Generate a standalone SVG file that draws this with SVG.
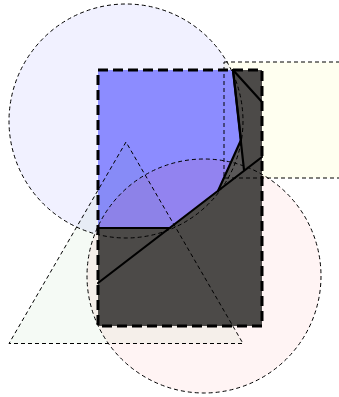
<svg xmlns="http://www.w3.org/2000/svg" width="339" height="397" viewBox="0 0 339 397">
<style>
.thin{fill:none;stroke:#000;stroke-width:1;stroke-dasharray:4 3}
.thick{fill:none;stroke:#000;stroke-width:2.2;stroke-linejoin:round;stroke-linecap:round}
</style>
<defs>
  <clipPath id="blueclip"><polygon points="98,70 233,70 241,140 218,191 170,228 98,228"/></clipPath>
</defs>
<rect width="339" height="397" fill="#fff"/>
<g id="fills">
  <circle cx="126" cy="121" r="117" fill="#0000ff" fill-opacity="0.055"/>
  <rect x="224" y="62" width="120" height="116" fill="#ffff00" fill-opacity="0.06"/>
  <polygon points="126,142 9,343.5 243,343.5" fill="#008000" fill-opacity="0.04"/>
  <circle cx="204" cy="276" r="117" fill="#ff0000" fill-opacity="0.045"/>
</g>
<g id="box">
  <rect x="98" y="70" width="164" height="256" fill="#4c4a48"/>
  <polygon points="233,70 244,170 218,191 241,140" fill="#5a5858"/>
  <polygon points="98,70 233,70 241,140 218,191 170,228 98,228" fill="#8c8cff"/>
  <g clip-path="url(#blueclip)">
    <circle cx="204" cy="276" r="117" fill="#ff0000" fill-opacity="0.06"/>
    <polygon points="126,142 9,343.5 243,343.5" fill="#008000" fill-opacity="0.03"/>
  </g>
</g>
<g id="outlines">
  <circle class="thin" cx="126" cy="121" r="117"/>
  <rect class="thin" x="224" y="62" width="130" height="116"/>
  <polygon class="thin" points="126,142 9,343.5 243,343.5"/>
  <circle class="thin" cx="204" cy="276" r="117"/>
</g>
<g id="connectors">
  <polyline class="thick" points="98,228 170,228"/>
  <polyline class="thick" points="233,70 241,140 218,191"/>
  <line class="thick" x1="98" y1="283" x2="262" y2="157"/>
  <line class="thick" x1="233" y1="70" x2="244" y2="170"/>
  <line class="thick" x1="233" y1="70" x2="262" y2="102"/>
</g>
<rect id="frame" x="98" y="70" width="164" height="256" fill="none" stroke="#000" stroke-width="3" stroke-dasharray="10 5"/>
</svg>
